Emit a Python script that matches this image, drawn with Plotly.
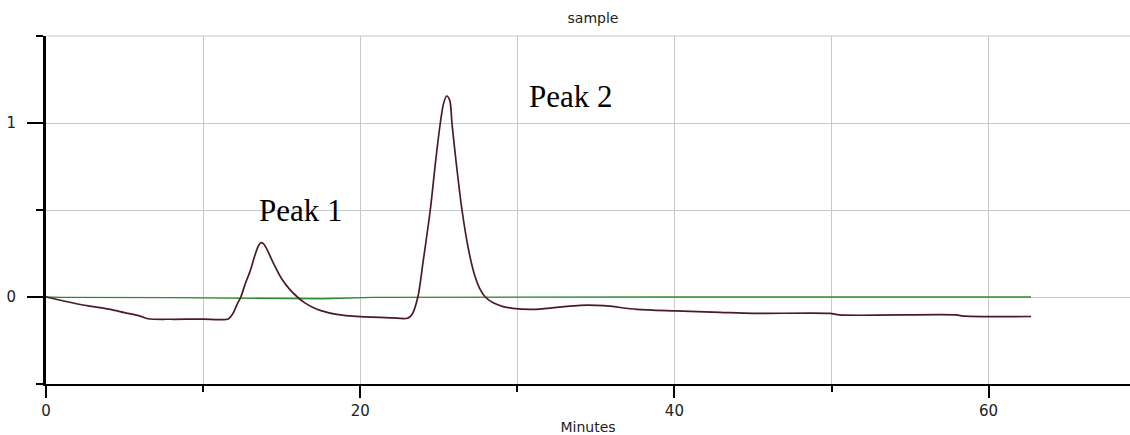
import plotly.graph_objects as go

# Sample trace (minutes, absorbance)
sample_t = [0, 1, 2, 3, 4, 5, 6, 6.5, 8, 10, 11, 11.6, 11.9, 12.15, 12.4, 12.7, 13.0, 13.3,
            13.5, 13.67, 13.85, 14.0, 14.5, 15.0, 15.5, 16.0, 16.5, 17.0, 17.5, 18.5, 20, 22,
            23.0, 23.3, 23.67, 24.0, 24.46, 24.8, 25.1, 25.3, 25.5, 25.7, 25.84, 26.1,
            26.48, 26.9, 27.3, 27.6, 27.96, 28.5, 29.1, 29.7, 31.0, 32.5, 34.0, 35.5,
            37.6, 40.1, 42.9, 45.0, 49.9, 50.5, 57.9, 58.5, 62.7]
sample_v = [0, -0.02, -0.04, -0.055, -0.07, -0.09, -0.11, -0.125, -0.128, -0.127,
            -0.13, -0.126, -0.095, -0.045, 0.0, 0.08, 0.15, 0.24,
            0.29, 0.312, 0.305, 0.285, 0.19, 0.105, 0.045, 0.0, -0.035, -0.06, -0.078, -0.1,
            -0.113, -0.12,
            -0.122, -0.1, 0.0, 0.2, 0.5, 0.78, 1.0, 1.11, 1.155, 1.13, 1.0, 0.78,
            0.5, 0.27, 0.12, 0.05, 0.0, -0.035, -0.055, -0.065, -0.071, -0.06, -0.048, -0.05,
            -0.071, -0.08, -0.088, -0.094, -0.094, -0.103, -0.103, -0.11, -0.112]

# Baseline trace
base_t = [0, 1, 8, 10.5, 17.6, 20.8, 30, 40, 50, 62.7]
base_v = [0, -0.002, -0.004, -0.006, -0.01, -0.002, 0, 0, 0, 0]

x_tick_vals = [0, 20, 40, 60]
x_tick_text = ["0", "20", "40", "60"]
y_tick_vals = [0, 1]
y_tick_text = ["0", "1"]

peak_labels = ["Peak 1", "Peak 2"]
peak_label_x = [16.2, 33.4]
peak_label_y = [0.5, 1.15]

fig = go.Figure()
fig.add_trace(go.Scatter(x=base_t, y=base_v, mode="lines",
                         line=dict(color="#2f8a2f", width=1.3), hoverinfo="skip"))
fig.add_trace(go.Scatter(x=sample_t, y=sample_v, mode="lines",
                         line=dict(color="#4a1c22", width=1.7, shape="spline", smoothing=0.8),
                         hoverinfo="skip"))

for txt, px, py in zip(peak_labels, peak_label_x, peak_label_y):
    fig.add_annotation(x=px, y=py, text=txt, showarrow=False,
                       font=dict(family="Liberation Serif", size=31, color="#000"))

grid = "#c8c8c8"
# top border grid line of the plot area
fig.add_shape(type="line", xref="paper", yref="paper", x0=0, x1=1, y0=1, y1=1,
              line=dict(color=grid, width=1), layer="below")

fig.update_layout(
    width=1130, height=435,
    margin=dict(l=46, r=0, t=36, b=51),
    paper_bgcolor="white", plot_bgcolor="white",
    showlegend=False,
    title=dict(text="sample", x=593 / 1130, xanchor="center", y=1 - 18 / 435, yanchor="middle",
               font=dict(family="DejaVu Sans", size=14, color="#222")),
    font=dict(family="DejaVu Sans", size=15, color="#222"),
    xaxis=dict(range=[0, 69], tickvals=x_tick_vals, ticktext=x_tick_text,
               ticks="outside", ticklen=12, tickwidth=2, tickcolor="#000",
               showline=True, linecolor="#000", linewidth=2,
               showgrid=True, gridcolor=grid, gridwidth=1, zeroline=False,
               minor=dict(dtick=10, tick0=0, ticks="outside", ticklen=6, tickwidth=2,
                          tickcolor="#000", showgrid=True, gridcolor=grid, gridwidth=1),
               title=dict(text="Minutes", standoff=3, font=dict(size=14))),
    yaxis=dict(range=[-0.5, 1.5], tickvals=y_tick_vals, ticktext=y_tick_text,
               ticks="outside", ticklen=16, tickwidth=1.5, tickcolor="#000",
               ticklabelstandoff=8,
               showline=True, linecolor="#000", linewidth=3,
               showgrid=True, gridcolor=grid, gridwidth=1, zeroline=False,
               minor=dict(dtick=0.5, tick0=0, ticks="outside", ticklen=7, tickwidth=1.5,
                          tickcolor="#000", showgrid=True, gridcolor=grid, gridwidth=1)),
)

fig.write_html("out.html")
